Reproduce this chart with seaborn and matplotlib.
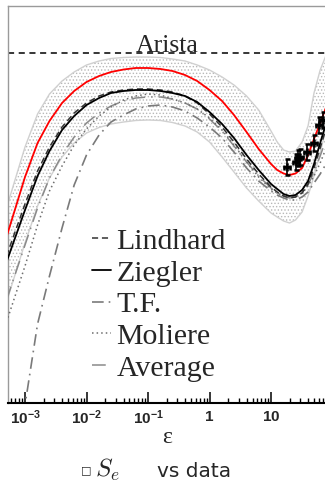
import numpy as np
import pandas as pd
import matplotlib
matplotlib.use("Agg")
import matplotlib.pyplot as plt
import matplotlib.ticker as mticker
import matplotlib.transforms as mtransforms
import seaborn as sns

# ---- data -------------------------------------------------------------
epsilon = [5.0e-4, 1.0e-3, 1.6e-3, 2.5e-3, 4.0e-3, 6.3e-3, 1.0e-2, 1.6e-2,
           2.5e-2, 4.0e-2, 6.3e-2, 0.10, 0.16, 0.25, 0.40, 0.63, 1.0, 1.6,
           2.5, 4.0, 6.3, 10, 12.6, 16, 20, 25, 32, 40, 50, 63, 80]

s_red = [1.66, 2.26, 2.60, 2.82, 3.00, 3.12, 3.21, 3.27, 3.31, 3.335, 3.35,
         3.35, 3.34, 3.32, 3.28, 3.22, 3.13, 3.02, 2.88, 2.71, 2.54, 2.39,
         2.33, 2.295, 2.28, 2.295, 2.35, 2.48, 2.64, 2.80, 2.97]
s_ziegler = [1.41, 1.93, 2.27, 2.52, 2.73, 2.87, 2.98, 3.05, 3.10, 3.12, 3.13,
             3.13, 3.12, 3.10, 3.07, 3.01, 2.91, 2.79, 2.65, 2.48, 2.33, 2.19,
             2.14, 2.09, 2.07, 2.08, 2.13, 2.22, 2.39, 2.60, 2.81]
s_lindhard = [1.47, 1.99, 2.32, 2.56, 2.76, 2.90, 3.00, 3.07, 3.11, 3.13, 3.14,
              3.14, 3.13, 3.11, 3.07, 3.00, 2.89, 2.76, 2.61, 2.44, 2.29, 2.16,
              2.11, 2.07, 2.05, 2.06, 2.10, 2.19, 2.35, 2.55, 2.76]
s_moliere = [0.81, 1.37, 1.78, 2.12, 2.37, 2.58, 2.74, 2.87, 2.96, 3.03, 3.07,
             3.09, 3.08, 3.04, 3.00, 2.94, 2.85, 2.73, 2.58, 2.41, 2.26, 2.14,
             2.10, 2.07, 2.06, 2.07, 2.10, 2.17, 2.27, 2.40, 2.56]
s_tf = [-1.17, -0.02, 0.79, 1.27, 1.75, 2.18, 2.48, 2.68, 2.81, 2.88, 2.94,
        2.97, 2.98, 2.96, 2.92, 2.85, 2.76, 2.65, 2.51, 2.35, 2.22, 2.12,
        2.08, 2.05, 2.03, 2.03, 2.06, 2.11, 2.20, 2.29, 2.40]
s_average = [1.03, 1.58, 1.95, 2.25, 2.48, 2.66, 2.80, 2.90, 2.97, 3.02, 3.05,
             3.06, 3.06, 3.04, 3.00, 2.94, 2.84, 2.72, 2.57, 2.41, 2.27, 2.15,
             2.10, 2.07, 2.05, 2.06, 2.10, 2.18, 2.31, 2.47, 2.65]
band_high = [1.95, 2.56, 2.89, 3.09, 3.22, 3.31, 3.38, 3.42, 3.445, 3.455, 3.46,
             3.46, 3.455, 3.44, 3.42, 3.38, 3.33, 3.26, 3.18, 3.07, 2.93, 2.72,
             2.61, 2.53, 2.51, 2.52, 2.61, 2.77, 3.10, 3.33, 3.49]
band_low = [1.01, 1.60, 1.97, 2.25, 2.46, 2.60, 2.70, 2.755, 2.79, 2.81, 2.825,
            2.83, 2.825, 2.805, 2.77, 2.71, 2.61, 2.46, 2.31, 2.15, 2.02, 1.90,
            1.86, 1.82, 1.80, 1.83, 1.91, 2.07, 2.27, 2.50, 2.77]

arista_level = 3.50

data_eps = [18.2, 25.5, 27.5, 29.6, 38.5, 50.0, 60.3, 70.1]
data_s = [2.36, 2.41, 2.45, 2.46, 2.51, 2.60, 2.78, 2.83]
data_err = [0.08, 0.08, 0.08, 0.08, 0.08, 0.08, 0.08, 0.08]

tick_pos = [1e-3, 1e-2, 1e-1, 1, 10]
tick_labels = [r"$\mathbf{10^{-3}}$", r"$\mathbf{10^{-2}}$",
               r"$\mathbf{10^{-1}}$", r"$\mathbf{1}$", r"$\mathbf{10}$"]

# ---- style ------------------------------------------------------------
sns.set_style("white")
plt.rcParams["font.family"] = ["DejaVu Sans"]
plt.rcParams["mathtext.fontset"] = "custom"
plt.rcParams["mathtext.bf"] = "Liberation Sans:bold"
plt.rcParams["mathtext.rm"] = "Liberation Sans:bold"
plt.rcParams["mathtext.it"] = "Liberation Sans:bold"
plt.rcParams["hatch.linewidth"] = 0.6

W, H = 325, 483
fig = plt.figure(figsize=(W / 100, H / 100), dpi=100)
ax = fig.add_axes([8 / W, 80 / H, 322 / W, 397 / H])
ax.set_xscale("log")

eps = np.array(epsilon)
df = pd.DataFrame({"epsilon": epsilon, "red": s_red, "Ziegler": s_ziegler,
                   "Lindhard": s_lindhard, "Moliere": s_moliere,
                   "T.F.": s_tf, "Average": s_average})

# uncertainty band
ax.fill_between(eps, band_low, band_high, facecolor="white",
                edgecolor="#b8b8b8", hatch=".....", linewidth=0, zorder=1)
ax.plot(eps, band_high, color="#d0d0d0", lw=1.0, zorder=1.5)
ax.plot(eps, band_low, color="#d0d0d0", lw=1.0, zorder=1.5)

styles = {
    "T.F.": dict(color="#7a7a7a", lw=1.2, linestyle=(0, (7, 3, 1, 3))),
    "Average": dict(color="#8a8a8a", lw=1.1, linestyle=(0, (9, 4, 1, 4))),
    "Moliere": dict(color="#6e6e6e", lw=1.1, linestyle=(0, (1, 2))),
    "Lindhard": dict(color="#333333", lw=1.1, linestyle=(0, (4, 2.5))),
    "Ziegler": dict(color="black", lw=1.3, linestyle="-"),
}
handles = {}
for name, kw in styles.items():
    sns.lineplot(data=df, x="epsilon", y=name, ax=ax, errorbar=None,
                 zorder=3, **kw)
    handles[name] = ax.lines[-1]

sns.lineplot(data=df, x="epsilon", y="red", ax=ax, errorbar=None,
             color="red", lw=1.3, zorder=4)

# measurements
de = np.array(data_eps)
ax.errorbar(de, data_s, yerr=data_err, xerr=[de - de / 1.1, de * 1.1 - de],
            fmt="+", color="black", ms=6, mew=1.8, elinewidth=1.2,
            capsize=1.8, capthick=1.0, zorder=5)

# Arista level
ax.axhline(arista_level, color="black", lw=1.1, linestyle=(0, (4, 3)), zorder=2)
ax.text(0.494, arista_level + 0.01, "Arista",
        transform=mtransforms.blended_transform_factory(ax.transAxes, ax.transData),
        ha="center", va="baseline", fontsize=18.5, family="Liberation Serif",
        zorder=6)

# axes
ax.set_xlim(5.29e-4, 91)
ax.set_ylim(0, 3.97)
ax.set_ylabel("")
ax.set_yticks([])
ax.set_xticks(tick_pos)
ax.set_xticklabels(tick_labels, fontsize=11)
ax.xaxis.set_minor_locator(mticker.LogLocator(base=10, subs=np.arange(2, 10), numticks=20))
ax.xaxis.set_minor_formatter(mticker.NullFormatter())
ax.tick_params(axis="x", which="major", direction="in", length=8, width=1.1,
               pad=4, bottom=True, top=False, color="black")
ax.tick_params(axis="x", which="minor", direction="in", length=3.6, width=1.0,
               bottom=True, top=False, color="black")
ax.set_xlabel("\u03b5", family="Liberation Serif", fontsize=17)
ax.xaxis.set_label_coords(0.494, -0.088)
ax.xaxis.label.set_va("center")

for side in ("left", "top"):
    ax.spines[side].set_color("#9a9a9a")
    ax.spines[side].set_linewidth(1.0)
ax.spines["right"].set_visible(False)
ax.spines["bottom"].set_color("black")
ax.spines["bottom"].set_linewidth(1.5)

order = ["Lindhard", "Ziegler", "T.F.", "Moliere", "Average"]
leg = ax.legend([handles[n] for n in order], order, loc="upper left",
                bbox_to_anchor=(92 / W, 1 - 228 / H), bbox_transform=fig.transFigure,
                frameon=False, prop=dict(family="Liberation Serif", size=21.5),
                handlelength=0.62, handletextpad=0.2, labelspacing=0.16,
                borderpad=0, borderaxespad=0)
leg.set_zorder(7)

# caption
fig.text(86 / W, 1 - 470 / H, "\u25a1", ha="center", va="center", fontsize=8,
         family="DejaVu Sans")
fig.text(95 / W, 1 - 477 / H, r"$S_e$", ha="left", va="baseline",
         fontsize=18, family="DejaVu Sans", math_fontfamily="cm")
fig.text(157 / W, 1 - 477 / H, "vs data", ha="left", va="baseline",
         fontsize=14.5, family="DejaVu Sans")

fig.savefig("out.png", dpi=100)
